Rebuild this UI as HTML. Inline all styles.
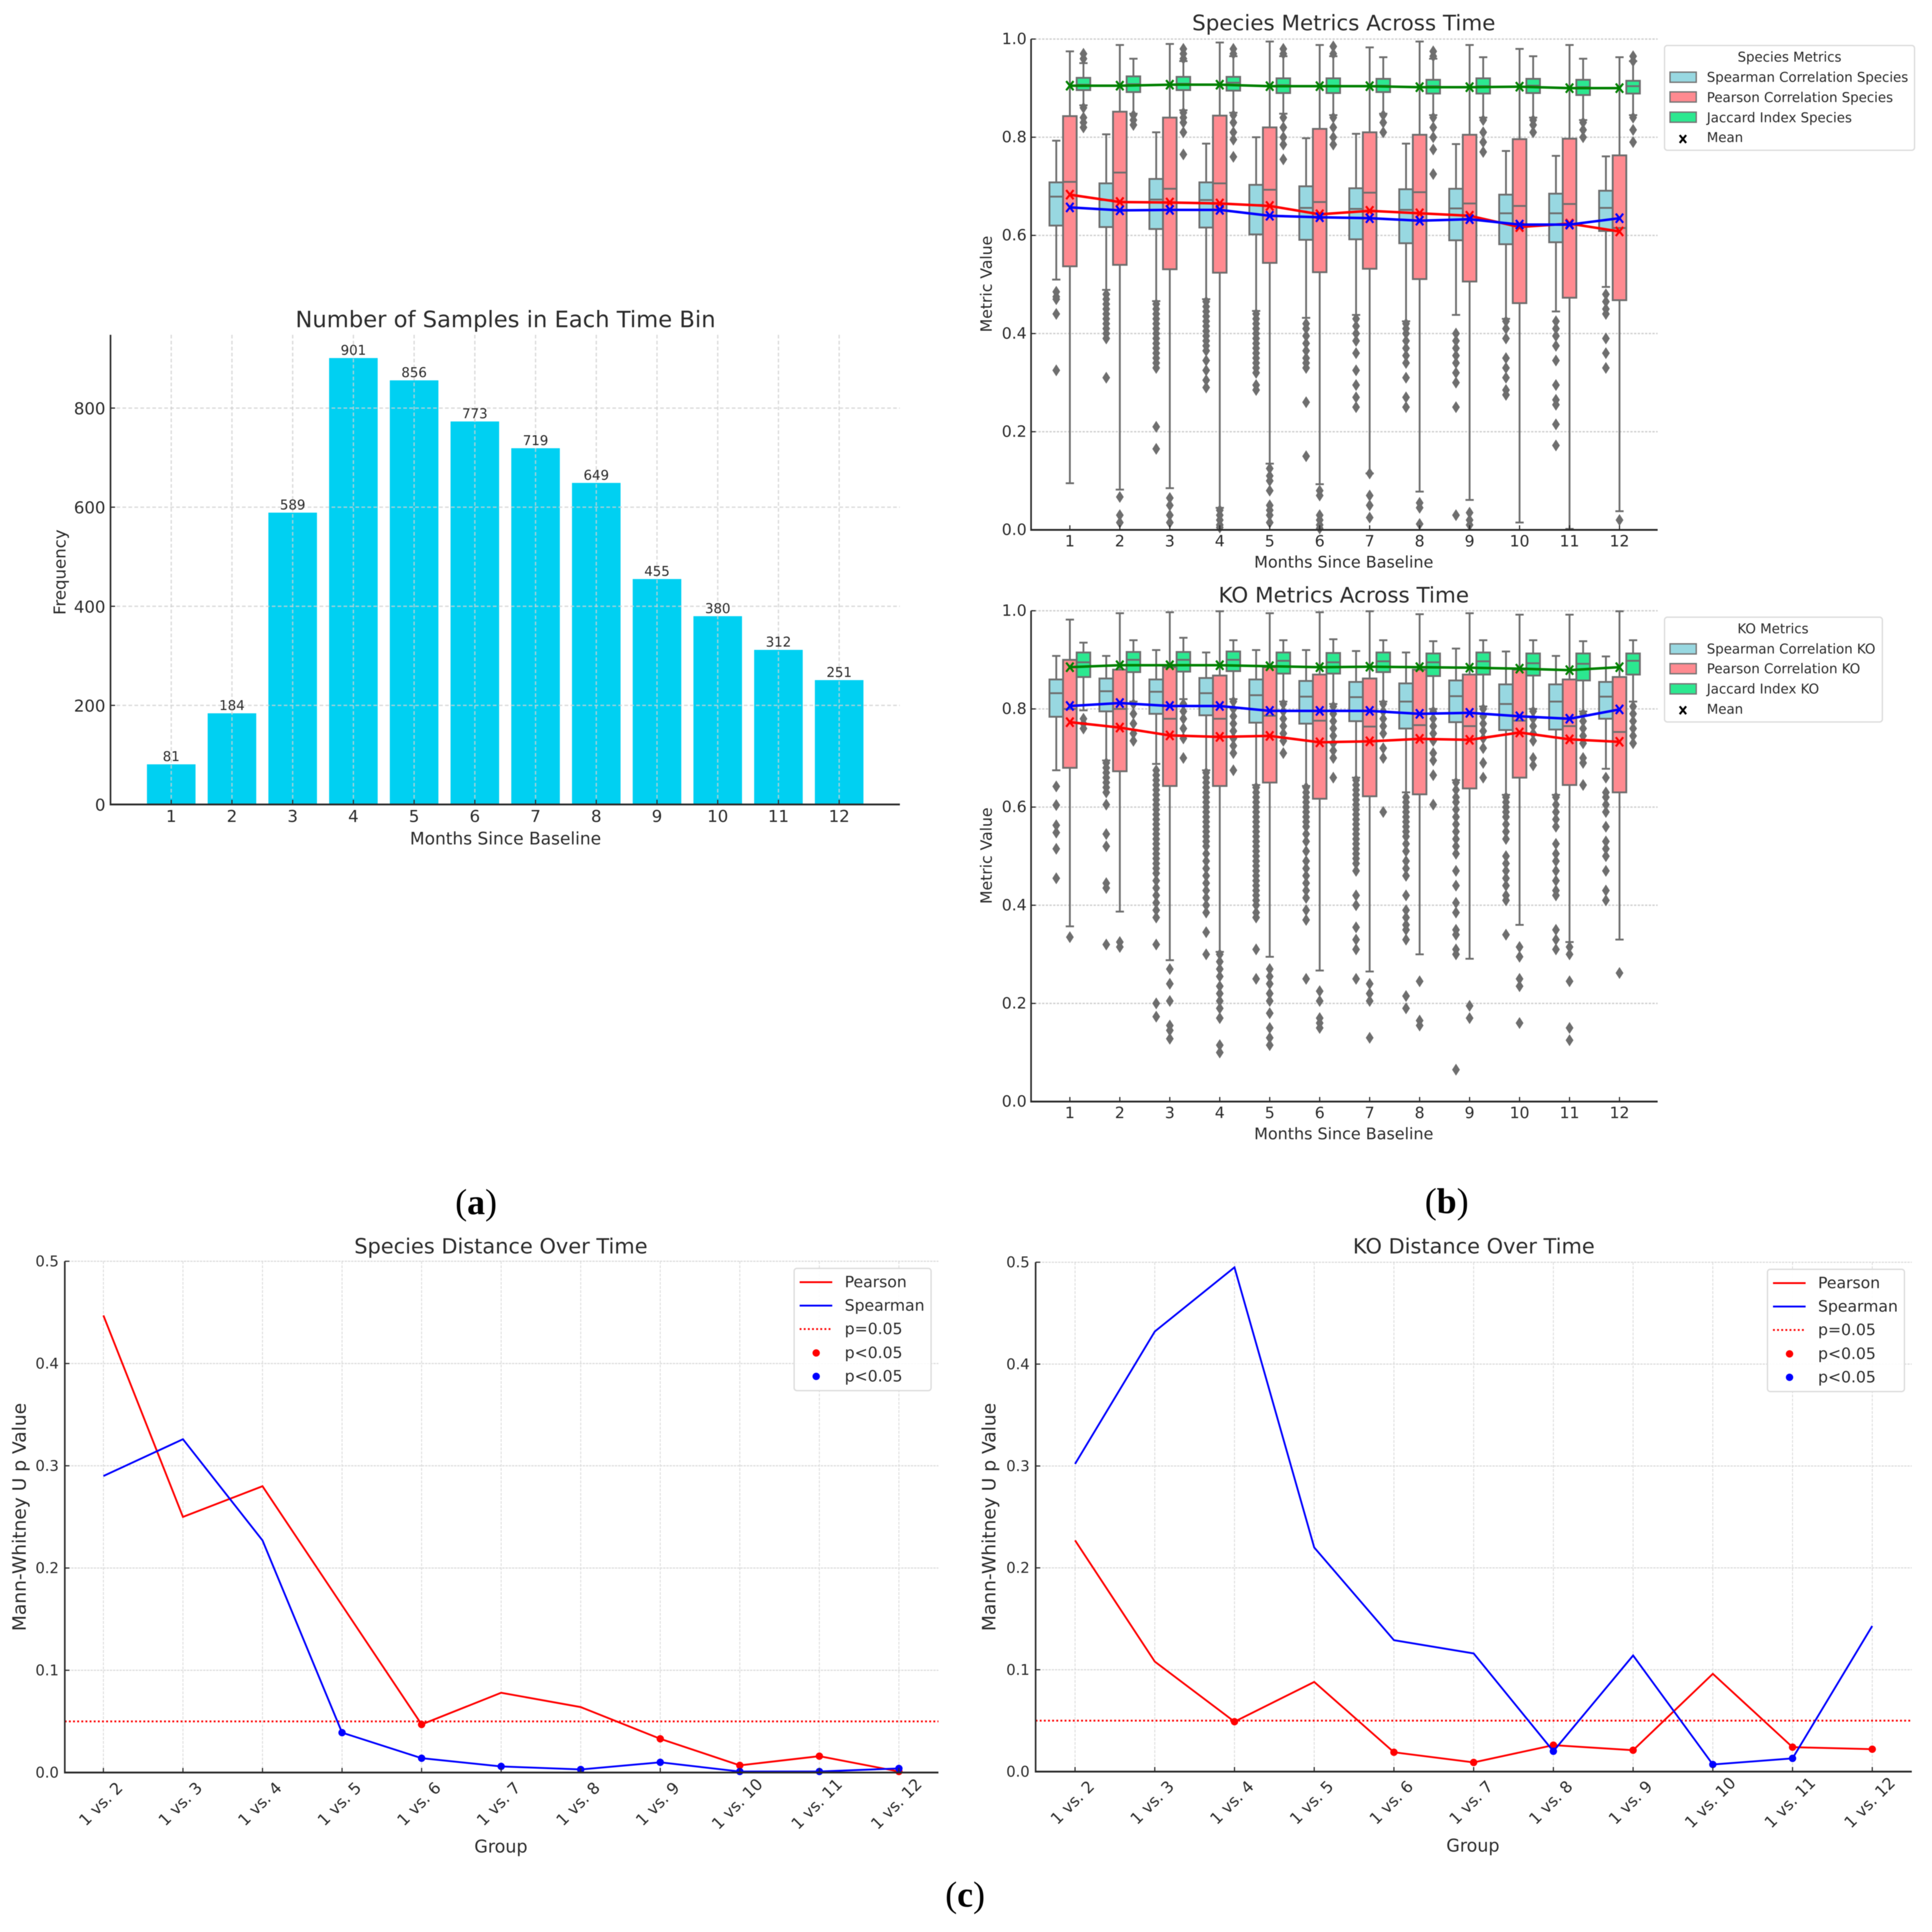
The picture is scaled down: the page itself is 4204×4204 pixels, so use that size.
<!DOCTYPE html>
<html lang="en">
<head>
<meta charset="utf-8">
<title>Samples, metrics and distance over time</title>
<style>
html,body{margin:0;padding:0;background:#fff;width:4204px;height:4204px;overflow:hidden}
svg{display:block;filter:blur(0.8px)}
text{font-family:"DejaVu Sans","Liberation Sans",sans-serif;fill:#2b2b2b;dominant-baseline:central}
.panel{font-family:"Liberation Serif",serif;font-size:78px;fill:#000}
.title{text-anchor:middle}
.lab{text-anchor:middle}
</style>
</head>
<body>
<svg id="figure" xmlns="http://www.w3.org/2000/svg" width="4204" height="4204" viewBox="0 0 4204 4204">
  <rect width="4204" height="4204" fill="#fff"/>

  <g id="bar-chart"></g>
  <text class="title" x="1100" y="695" font-size="49.3">Number of Samples in Each Time Bin</text>
  <text class="lab" x="1100" y="1825" font-size="37">Months Since Baseline</text>
  <text class="lab" transform="translate(131 1245) rotate(-90)" font-size="36">Frequency</text>

  <g id="species-box"></g>
  <text class="title" x="2924" y="51" font-size="46.7">Species Metrics Across Time</text>
  <text class="lab" x="2924" y="1224" font-size="34.7">Months Since Baseline</text>
  <text class="lab" transform="translate(2147 618) rotate(-90)" font-size="34">Metric Value</text>
  <g>
    <rect x="3622" y="99" width="544" height="228" rx="6" fill="#fff" stroke="#ddd" stroke-width="3"/>
    <text class="lab" x="3894" y="124" font-size="29">Species Metrics</text>
    <rect x="3634" y="157" width="57" height="22" fill="#98d8e1" stroke="#777" stroke-width="3"/>
    <text x="3714" y="168" font-size="29">Spearman Correlation Species</text>
    <rect x="3634" y="200" width="57" height="22" fill="#ff8a90" stroke="#777" stroke-width="3"/>
    <text x="3714" y="212" font-size="29">Pearson Correlation Species</text>
    <rect x="3634" y="244" width="57" height="22" fill="#2ce890" stroke="#777" stroke-width="3"/>
    <text x="3714" y="256" font-size="29">Jaccard Index Species</text>
    <path d="M3655 294L3669 311M3669 294L3655 311" stroke="#000" stroke-width="4.5" fill="none"/>
    <text x="3714" y="299" font-size="29">Mean</text>
  </g>

  <g id="ko-box"></g>
  <text class="title" x="2924" y="1296" font-size="46.7">KO Metrics Across Time</text>
  <text class="lab" x="2924" y="2468" font-size="34.7">Months Since Baseline</text>
  <text class="lab" transform="translate(2147 1862) rotate(-90)" font-size="34">Metric Value</text>
  <g>
    <rect x="3622" y="1343" width="474" height="228" rx="6" fill="#fff" stroke="#ddd" stroke-width="3"/>
    <text class="lab" x="3858" y="1368" font-size="29">KO Metrics</text>
    <rect x="3634" y="1401" width="57" height="22" fill="#98d8e1" stroke="#777" stroke-width="3"/>
    <text x="3714" y="1412" font-size="29">Spearman Correlation KO</text>
    <rect x="3634" y="1444" width="57" height="22" fill="#ff8a90" stroke="#777" stroke-width="3"/>
    <text x="3714" y="1455" font-size="29">Pearson Correlation KO</text>
    <rect x="3634" y="1488" width="57" height="22" fill="#2ce890" stroke="#777" stroke-width="3"/>
    <text x="3714" y="1499" font-size="29">Jaccard Index KO</text>
    <path d="M3655 1537L3669 1554M3669 1537L3655 1554" stroke="#000" stroke-width="4.5" fill="none"/>
    <text x="3714" y="1543" font-size="29">Mean</text>
  </g>

  <g id="species-line"></g>
  <text class="title" x="1090" y="2712" font-size="45.5">Species Distance Over Time</text>
  <text class="lab" x="1090" y="4018" font-size="38">Group</text>
  <text class="lab" transform="translate(42 3301) rotate(-90)" font-size="40.5">Mann-Whitney U p Value</text>
  <g>
    <rect x="1728" y="2760" width="298" height="266" rx="6" fill="#fff" fill-opacity=".9" stroke="#ddd" stroke-width="3"/>
    <path d="M1740 2790H1811" stroke="#f00" stroke-width="4"/>
    <text x="1838" y="2790" font-size="34">Pearson</text>
    <path d="M1740 2841H1811" stroke="#00f" stroke-width="4"/>
    <text x="1838" y="2841" font-size="34">Spearman</text>
    <path d="M1740 2892H1811" stroke="#f00" stroke-width="4" stroke-dasharray="4 5"/>
    <text x="1838" y="2892" font-size="34">p=0.05</text>
    <circle cx="1776" cy="2944" r="8" fill="#f00"/>
    <text x="1838" y="2944" font-size="34">p&lt;0.05</text>
    <circle cx="1776" cy="2995" r="8" fill="#00f"/>
    <text x="1838" y="2995" font-size="34">p&lt;0.05</text>
  </g>

  <g id="ko-line"></g>
  <text class="title" x="3207" y="2712" font-size="45.5">KO Distance Over Time</text>
  <text class="lab" x="3205" y="4016" font-size="38">Group</text>
  <text class="lab" transform="translate(2152 3301) rotate(-90)" font-size="40.5">Mann-Whitney U p Value</text>
  <g>
    <rect x="3846" y="2762" width="298" height="266" rx="6" fill="#fff" fill-opacity=".9" stroke="#ddd" stroke-width="3"/>
    <path d="M3858 2792H3929" stroke="#f00" stroke-width="4"/>
    <text x="3956" y="2792" font-size="34">Pearson</text>
    <path d="M3858 2843H3929" stroke="#00f" stroke-width="4"/>
    <text x="3956" y="2843" font-size="34">Spearman</text>
    <path d="M3858 2894H3929" stroke="#f00" stroke-width="4" stroke-dasharray="4 5"/>
    <text x="3956" y="2894" font-size="34">p=0.05</text>
    <circle cx="3894" cy="2946" r="8" fill="#f00"/>
    <text x="3956" y="2946" font-size="34">p&lt;0.05</text>
    <circle cx="3894" cy="2997" r="8" fill="#00f"/>
    <text x="3956" y="2997" font-size="34">p&lt;0.05</text>
  </g>

  <text class="panel" x="1036" y="2615" text-anchor="middle">(<tspan font-weight="bold">a</tspan>)</text>
  <text class="panel" x="3148" y="2613" text-anchor="middle">(<tspan font-weight="bold">b</tspan>)</text>
  <text class="panel" x="2100" y="4122" text-anchor="middle">(<tspan font-weight="bold">c</tspan>)</text>
</svg>

<script>
// ---------- bar chart data ----------
const months = [1,2,3,4,5,6,7,8,9,10,11,12];
const barFrequency = [81,184,589,901,856,773,719,649,455,380,312,251];
const barYTicks = [0,200,400,600,800];
const boxYTicks = [0,0.2,0.4,0.6,0.8,1];
const lineYTicks = [0,0.1,0.2,0.3,0.4,0.5];
const groupLabels = ["1 vs. 2","1 vs. 3","1 vs. 4","1 vs. 5","1 vs. 6","1 vs. 7","1 vs. 8","1 vs. 9","1 vs. 10","1 vs. 11","1 vs. 12"];
const pThreshold = 0.05;

// ---------- species box data: [low whisker, q1, median, q3, high whisker] ----------
const speciesSpearmanBox = [[.51,.62,.679,.708,.793],[.489,.617,.672,.706,.806],[.466,.613,.673,.715,.81],[.47,.616,.672,.708,.787],[.446,.602,.662,.703,.8],[.432,.591,.656,.7,.798],[.438,.592,.654,.696,.807],[.425,.584,.652,.694,.787],[.438,.59,.655,.695,.786],[.43,.582,.645,.683,.772],[.445,.586,.645,.685,.762],[.495,.609,.656,.691,.761]];
const speciesPearsonBox = [[.095,.537,.709,.843,.975],[.082,.54,.728,.852,.988],[.085,.531,.695,.84,.99],[.045,.524,.706,.844,.993],[.135,.544,.693,.82,.995],[.093,.525,.668,.817,.988],[.115,.532,.687,.81,.983],[.078,.511,.688,.805,.995],[.061,.506,.665,.805,.988],[.015,.462,.66,.796,.98],[.002,.473,.664,.797,.988],[.038,.468,.615,.763,.963]];
const speciesJaccardBox = [[.865,.896,.907,.921,.951],[.848,.892,.908,.924,.96],[.855,.896,.909,.923,.955],[.85,.895,.911,.923,.965],[.848,.89,.906,.92,.965],[.845,.89,.905,.92,.965],[.848,.892,.905,.919,.963],[.845,.889,.904,.917,.96],[.84,.889,.904,.92,.963],[.84,.89,.905,.919,.965],[.835,.886,.902,.917,.96],[.845,.889,.904,.915,.955]];
const speciesSpearmanOut = [[.485,.475,.47,.44,.325],[.48,.47,.46,.45,.44,.43,.42,.41,.40,.39,.31],[.46,.45,.44,.43,.42,.41,.40,.39,.38,.37,.36,.35,.34,.33,.21,.165],[.465,.455,.445,.435,.425,.415,.405,.395,.385,.375,.365,.345,.325,.305,.29],[.44,.43,.42,.41,.40,.39,.38,.37,.36,.35,.34,.33,.32,.295,.285],[.42,.41,.395,.38,.365,.35,.34,.33,.26,.15],[.43,.415,.40,.385,.36,.325,.295,.27,.25],[.42,.41,.40,.385,.37,.355,.34,.31,.27,.25],[.40,.385,.37,.355,.34,.32,.30,.25,.03],[.425,.41,.39,.35,.33,.31,.285,.275],[.425,.41,.395,.375,.345,.295,.265,.255,.215,.172],[.48,.465,.45,.44,.39,.36,.33]];
const speciesPearsonOut = [[],[.067,.03,.015],[.065,.05,.03,.015],[.04,.03,.02,.01,.005],[.125,.11,.10,.08,.05,.04,.03,.015],[.08,.07,.03,.02,.01,.003],[.115,.07,.05,.025],[.055,.045,.012],[.035,.02,.01],[],[],[.02]];
const speciesJaccardOut = [[.97,.96,.86,.84,.83,.82],[.845,.835,.825],[.98,.97,.96,.85,.84,.83,.81,.765],[.98,.97,.845,.83,.81,.795,.76],[.98,.97,.84,.82,.80,.785,.755],[.985,.97,.84,.82,.80,.785],[.845,.83,.81],[.975,.965,.84,.82,.80,.775,.725],[.835,.81,.79,.77],[.835,.825,.81],[.83,.815,.80],[.965,.955,.84,.815,.79]];
const speciesSpearmanMean = [.657,.651,.652,.652,.64,.637,.635,.63,.633,.622,.622,.635];
const speciesPearsonMean = [.683,.668,.667,.665,.66,.643,.65,.645,.64,.617,.624,.608];
const speciesJaccardMean = [.905,.905,.907,.907,.904,.904,.904,.902,.902,.903,.9,.9];

// ---------- KO box data ----------
const koSpearmanBox = [[.675,.784,.832,.86,.908],[.695,.795,.836,.862,.908],[.688,.79,.835,.86,.92],[.675,.787,.832,.863,.915],[.645,.772,.828,.86,.92],[.643,.77,.825,.857,.92],[.66,.775,.824,.855,.918],[.63,.76,.815,.852,.915],[.655,.773,.826,.858,.923],[.625,.757,.81,.85,.917],[.625,.758,.815,.85,.908],[.678,.78,.825,.855,.907]];
const koPearsonBox = [[.357,.68,.8,.9,.982],[.387,.673,.8,.88,.995],[.288,.643,.78,.885,.997],[.305,.643,.78,.868,.999],[.295,.65,.786,.885,.995],[.267,.617,.776,.87,.997],[.265,.622,.764,.862,.999],[.3,.626,.767,.88,.993],[.291,.638,.765,.87,.995],[.36,.66,.776,.88,.992],[.325,.645,.765,.86,.992],[.33,.63,.753,.865,.999]];
const koJaccardBox = [[.797,.865,.895,.915,.935],[.815,.875,.9,.916,.94],[.82,.876,.9,.916,.945],[.82,.877,.9,.917,.94],[.815,.872,.898,.915,.94],[.81,.872,.895,.914,.942],[.815,.875,.897,.915,.94],[.8,.867,.895,.913,.938],[.805,.87,.897,.915,.94],[.8,.868,.893,.913,.94],[.795,.858,.892,.913,.938],[.815,.87,.898,.913,.94]];
const koSpearmanOut = [[.642,.604,.563,.548,.515,.455],[.69,.68,.67,.66,.65,.64,.63,.605,.545,.52,.445,.435,.32],[.675,.665,.655,.645,.635,.625,.615,.605,.595,.585,.575,.565,.555,.545,.535,.525,.515,.505,.495,.485,.475,.465,.45,.435,.42,.405,.39,.375,.32,.2,.173],[.67,.66,.65,.64,.63,.62,.61,.60,.59,.58,.57,.56,.55,.54,.53,.52,.505,.49,.475,.46,.445,.43,.415,.40,.385,.345,.30],[.64,.63,.62,.61,.60,.59,.58,.57,.56,.55,.54,.53,.52,.51,.50,.49,.48,.47,.46,.45,.44,.43,.42,.41,.40,.385,.375,.31,.25],[.64,.63,.62,.61,.60,.59,.58,.57,.56,.545,.53,.51,.49,.475,.46,.445,.43,.415,.39,.37,.25],[.655,.645,.635,.625,.615,.605,.595,.585,.575,.565,.555,.545,.535,.525,.515,.505,.495,.485,.47,.42,.40,.355,.33,.31,.25],[.62,.61,.60,.59,.58,.57,.56,.55,.54,.525,.51,.49,.475,.46,.42,.39,.375,.36,.35,.33,.215,.19],[.65,.635,.62,.61,.595,.58,.565,.55,.535,.52,.505,.47,.44,.405,.385,.35,.34,.31,.30,.065],[.62,.61,.60,.59,.58,.565,.55,.535,.50,.485,.47,.455,.44,.42,.41,.34],[.62,.605,.59,.575,.56,.525,.505,.49,.47,.45,.43,.42,.35,.33,.31],[.66,.63,.62,.605,.59,.56,.53,.515,.50,.47,.43,.41]];
const koPearsonOut = [[.335],[.325,.315],[.27,.24,.205,.155,.145,.128],[.30,.285,.27,.255,.235,.22,.205,.19,.17,.115,.10],[.27,.255,.24,.22,.205,.18,.15,.13,.115],[.225,.205,.17,.16,.15],[.24,.22,.205,.13],[.245,.165,.155],[.195,.17],[.315,.295,.25,.235,.16],[.315,.30,.245,.15,.125],[.262]];
const koJaccardOut = [[.78,.77,.76],[.81,.79,.77,.75,.735],[.81,.795,.78,.76,.74,.70],[.815,.80,.785,.77,.755,.74,.725,.71,.675],[.81,.795,.78,.765,.75,.735,.71],[.805,.79,.775,.76,.745,.73,.715,.70,.66],[.81,.795,.78,.765,.75,.72,.70,.59],[.795,.78,.765,.75,.735,.71,.695,.665,.605],[.80,.785,.77,.755,.74,.72,.69,.66],[.795,.78,.765,.75,.735,.70,.685],[.79,.775,.76,.745,.73,.70,.69,.645],[.805,.79,.775,.76,.745,.73]];
const koSpearmanMean = [.806,.812,.806,.806,.796,.796,.796,.79,.792,.785,.78,.799];
const koPearsonMean = [.773,.762,.746,.743,.745,.732,.734,.739,.737,.752,.738,.733];
const koJaccardMean = [.885,.889,.889,.889,.887,.885,.886,.885,.884,.882,.879,.885];

// ---------- distance line data ----------
const speciesPearsonP = [.447,.25,.28,.1635,.047,.078,.064,.033,.007,.016,.001];
const speciesSpearmanP = [.29,.326,.227,.039,.014,.006,.003,.01,.001,.001,.004];
const koPearsonP = [.227,.108,.049,.088,.019,.009,.026,.021,.096,.024,.022];
const koSpearmanP = [.302,.432,.495,.22,.129,.116,.02,.114,.007,.013,.143];

// ---------- helpers ----------
const NS = 'http://www.w3.org/2000/svg';
const AXIS = '#2a2a2a';
const GRID = '#d0d0d0';
const BOXEDGE = '#6e6e6e';

function linear(d0, d1, r0, r1) {
  return v => r0 + (v - d0) / (d1 - d0) * (r1 - r0);
}

function mark(parent, tag, attrs, name, content) {
  const el = document.createElementNS(NS, tag);
  for (const k in attrs) el.setAttribute(k, attrs[k]);
  
  
  if (content !== undefined) el.textContent = content;
  parent.appendChild(el);
  return el;
}

function polyPoints(xs, ys) {
  return xs.map((x, i) => x.toFixed(1) + ',' + ys[i].toFixed(1)).join(' ');
}

// ---------- bar chart ----------
(function drawBars() {
  const g = document.getElementById('bar-chart');
  const x = linear(1, 12, 372.6, 1826);
  const y = linear(0, 800, 1750.5, 888);
  const left = x(0), right = x(13), top = y(948), base = y(0);
  months.forEach((m, i) => {
    const v = barFrequency[i];
    mark(g, 'rect', {x: x(m - 0.4), y: y(v), width: x(m + 0.4) - x(m - 0.4), height: base - y(v), fill: '#00d0f2'}, 'bar-month-' + m);
  });
  months.forEach(m => {
    mark(g, 'line', {x1: x(m), x2: x(m), y1: top, y2: base, stroke: GRID, 'stroke-opacity': 0.75, 'stroke-width': 3, 'stroke-dasharray': '8 5'}, 'x-gridline-' + m);
  });
  barYTicks.slice(1).forEach(t => {
    mark(g, 'line', {x1: left, x2: right, y1: y(t), y2: y(t), stroke: GRID, 'stroke-opacity': 0.75, 'stroke-width': 3, 'stroke-dasharray': '8 5'}, 'y-gridline-' + t);
  });
  barYTicks.forEach(t => {
    mark(g, 'line', {x1: left, x2: left + 10, y1: y(t), y2: y(t), stroke: AXIS, 'stroke-width': 2.5}, 'y-tick-' + t);
    mark(g, 'text', {x: left - 11, y: y(t) + 2, 'text-anchor': 'end', 'font-size': 36}, 'y-tick-label-' + t, String(t));
  });
  months.forEach((m, i) => {
    mark(g, 'line', {x1: x(m), x2: x(m), y1: base, y2: base - 10, stroke: AXIS, 'stroke-width': 2.5}, 'x-tick-' + m);
    mark(g, 'text', {x: x(m), y: 1777, 'text-anchor': 'middle', 'font-size': 36}, 'x-tick-label-' + m, String(m));
    mark(g, 'text', {x: x(m), y: y(barFrequency[i]) - 17, 'text-anchor': 'middle', 'font-size': 29}, 'bar-value-label-' + m, String(barFrequency[i]));
  });
  mark(g, 'line', {x1: left, x2: left, y1: top, y2: base + 2, stroke: AXIS, 'stroke-width': 3.5}, 'y-axis-line');
  mark(g, 'line', {x1: left, x2: right, y1: base, y2: base, stroke: AXIS, 'stroke-width': 4}, 'x-axis-line');
})();

// ---------- box plots ----------
function drawBoxChart(cfg) {
  const g = document.getElementById(cfg.id);
  const x = linear(1, 12, 2328, 3524);
  const y = linear(0, 1, cfg.y0, cfg.y1);
  const left = 2243.6, right = 3607, base = cfg.y0, top = cfg.y1;
  const halfCap = 9, diamondW = 8.5, diamondH = 13;
  boxYTicks.slice(1).forEach(t => {
    mark(g, 'line', {x1: left, x2: right, y1: y(t), y2: y(t), stroke: GRID, 'stroke-width': 3, 'stroke-dasharray': '5 3'}, cfg.prefix + '-gridline-' + t);
  });
  cfg.series.forEach(s => {
    months.forEach((m, i) => {
      const cx = x(m + s.offset);
      const halfW = x(m + 0.136) - x(m);
      const [lo, q1, med, q3, hi] = s.box[i];
      const tag = cfg.prefix + '-' + s.name + '-month-' + m;
      mark(g, 'line', {x1: cx, x2: cx, y1: y(lo), y2: y(q1), stroke: BOXEDGE, 'stroke-width': 4}, tag + '-lower-whisker');
      mark(g, 'line', {x1: cx, x2: cx, y1: y(q3), y2: y(hi), stroke: BOXEDGE, 'stroke-width': 4}, tag + '-upper-whisker');
      mark(g, 'line', {x1: cx - halfCap, x2: cx + halfCap, y1: y(lo), y2: y(lo), stroke: BOXEDGE, 'stroke-width': 4}, tag + '-lower-cap');
      mark(g, 'line', {x1: cx - halfCap, x2: cx + halfCap, y1: y(hi), y2: y(hi), stroke: BOXEDGE, 'stroke-width': 4}, tag + '-upper-cap');
      s.out[i].forEach((o, k) => {
        const oy = y(o);
        const pts = [cx, oy - diamondH, cx + diamondW, oy, cx, oy + diamondH, cx - diamondW, oy].map(n => n.toFixed(1)).join(' ');
        mark(g, 'polygon', {points: pts, fill: BOXEDGE}, tag + '-outlier-' + k);
      });
      mark(g, 'rect', {x: cx - halfW, y: y(q3), width: halfW * 2, height: y(q1) - y(q3), fill: s.fill, stroke: BOXEDGE, 'stroke-width': 4}, tag + '-box');
      mark(g, 'line', {x1: cx - halfW, x2: cx + halfW, y1: y(med), y2: y(med), stroke: BOXEDGE, 'stroke-width': 4}, tag + '-median');
    });
  });
  cfg.means.forEach(s => {
    const xs = months.map(m => x(m));
    const ys = s.values.map(v => y(v));
    mark(g, 'polyline', {points: polyPoints(xs, ys), fill: 'none', stroke: s.color, 'stroke-width': 5.5}, cfg.prefix + '-' + s.name + '-mean-line');
    xs.forEach((px, i) => {
      const py = ys[i];
      const d = `M${px - 8} ${py - 10}L${px + 8} ${py + 10}M${px + 8} ${py - 10}L${px - 8} ${py + 10}`;
      mark(g, 'path', {d: d, fill: 'none', stroke: s.color, 'stroke-width': 4.5}, cfg.prefix + '-' + s.name + '-mean-marker-' + months[i]);
    });
  });
  boxYTicks.forEach(t => {
    mark(g, 'line', {x1: left, x2: left + 10, y1: y(t), y2: y(t), stroke: AXIS, 'stroke-width': 2.5}, cfg.prefix + '-y-tick-' + t);
    mark(g, 'text', {x: 2234, y: y(t), 'text-anchor': 'end', 'font-size': 34}, cfg.prefix + '-y-tick-label-' + t, t.toFixed(1));
  });
  months.forEach(m => {
    mark(g, 'line', {x1: x(m), x2: x(m), y1: base, y2: base - 10, stroke: AXIS, 'stroke-width': 2.5}, cfg.prefix + '-x-tick-' + m);
    mark(g, 'text', {x: x(m), y: base + 25, 'text-anchor': 'middle', 'font-size': 34}, cfg.prefix + '-x-tick-label-' + m, String(m));
  });
  mark(g, 'line', {x1: left, x2: left, y1: top, y2: base + 2, stroke: AXIS, 'stroke-width': 3.5}, cfg.prefix + '-y-axis-line');
  mark(g, 'line', {x1: left, x2: right, y1: base, y2: base, stroke: AXIS, 'stroke-width': 4}, cfg.prefix + '-x-axis-line');
}

drawBoxChart({
  id: 'species-box', prefix: 'species', y0: 1153, y1: 85,
  series: [
    {name: 'spearman', offset: -0.272, fill: '#98d8e1', box: speciesSpearmanBox, out: speciesSpearmanOut},
    {name: 'pearson', offset: 0, fill: '#ff8a90', box: speciesPearsonBox, out: speciesPearsonOut},
    {name: 'jaccard', offset: 0.272, fill: '#2ce890', box: speciesJaccardBox, out: speciesJaccardOut}
  ],
  means: [
    {name: 'jaccard', color: '#008000', values: speciesJaccardMean},
    {name: 'pearson', color: '#ff0000', values: speciesPearsonMean},
    {name: 'spearman', color: '#0000ff', values: speciesSpearmanMean}
  ]
});
drawBoxChart({
  id: 'ko-box', prefix: 'ko', y0: 2397, y1: 1329,
  series: [
    {name: 'spearman', offset: -0.272, fill: '#98d8e1', box: koSpearmanBox, out: koSpearmanOut},
    {name: 'pearson', offset: 0, fill: '#ff8a90', box: koPearsonBox, out: koPearsonOut},
    {name: 'jaccard', offset: 0.272, fill: '#2ce890', box: koJaccardBox, out: koJaccardOut}
  ],
  means: [
    {name: 'jaccard', color: '#008000', values: koJaccardMean},
    {name: 'pearson', color: '#ff0000', values: koPearsonMean},
    {name: 'spearman', color: '#0000ff', values: koSpearmanMean}
  ]
});

// ---------- distance line charts ----------
function drawLineChart(cfg) {
  const g = document.getElementById(cfg.id);
  const x = linear(0, 10, cfg.x0, cfg.x10);
  const y = linear(0, 0.5, cfg.y0, cfg.y5);
  const base = y(0), top = y(0.5);
  groupLabels.forEach((lab, i) => {
    mark(g, 'line', {x1: x(i), x2: x(i), y1: top, y2: base, stroke: '#dcdcdc', 'stroke-width': 2, 'stroke-dasharray': '6 3'}, cfg.prefix + '-x-gridline-' + i);
  });
  lineYTicks.slice(1).forEach(t => {
    mark(g, 'line', {x1: cfg.left, x2: cfg.right, y1: y(t), y2: y(t), stroke: '#dcdcdc', 'stroke-width': 2.5, 'stroke-dasharray': '5 2'}, cfg.prefix + '-y-gridline-' + t);
  });
  mark(g, 'line', {x1: cfg.left, x2: cfg.right, y1: y(pThreshold), y2: y(pThreshold), stroke: '#f00', 'stroke-width': 4, 'stroke-dasharray': '4 5'}, cfg.prefix + '-threshold-line');
  cfg.series.forEach(s => {
    const xs = s.values.map((v, i) => x(i));
    const ys = s.values.map(v => y(v));
    mark(g, 'polyline', {points: polyPoints(xs, ys), fill: 'none', stroke: s.color, 'stroke-width': 4}, cfg.prefix + '-' + s.name + '-line');
    s.values.forEach((v, i) => {
      if (v < pThreshold) {
        mark(g, 'circle', {cx: x(i), cy: y(v), r: 8, fill: s.color}, cfg.prefix + '-' + s.name + '-significant-point-' + i);
      }
    });
  });
  lineYTicks.forEach(t => {
    mark(g, 'line', {x1: cfg.left, x2: cfg.left + 10, y1: y(t), y2: y(t), stroke: AXIS, 'stroke-width': 2.5}, cfg.prefix + '-y-tick-' + t);
    mark(g, 'text', {x: cfg.left - 13, y: y(t), 'text-anchor': 'end', 'font-size': 32}, cfg.prefix + '-y-tick-label-' + t, t.toFixed(1));
  });
  groupLabels.forEach((lab, i) => {
    mark(g, 'line', {x1: x(i), x2: x(i), y1: base, y2: base - 10, stroke: AXIS, 'stroke-width': 2.5}, cfg.prefix + '-x-tick-' + i);
    mark(g, 'text', {transform: `translate(${x(i) - 5} ${cfg.labelY}) rotate(-45)`, 'text-anchor': 'middle', 'font-size': 35}, cfg.prefix + '-x-tick-label-' + i, lab);
  });
  mark(g, 'line', {x1: cfg.left, x2: cfg.left, y1: top, y2: base + 2, stroke: AXIS, 'stroke-width': 3.5}, cfg.prefix + '-y-axis-line');
  mark(g, 'line', {x1: cfg.left, x2: cfg.right, y1: base, y2: base, stroke: AXIS, 'stroke-width': 4}, cfg.prefix + '-x-axis-line');
}

drawLineChart({
  id: 'species-line', prefix: 'species-distance', x0: 225, x10: 1956, y0: 3857, y5: 2744.5, left: 141, right: 2042, labelY: 3926,
  series: [
    {name: 'pearson', color: '#ff0000', values: speciesPearsonP},
    {name: 'spearman', color: '#0000ff', values: speciesSpearmanP}
  ]
});
drawLineChart({
  id: 'ko-line', prefix: 'ko-distance', x0: 2339.3, x10: 4074, y0: 3855, y5: 2746.6, left: 2253.5, right: 4160, labelY: 3923,
  series: [
    {name: 'pearson', color: '#ff0000', values: koPearsonP},
    {name: 'spearman', color: '#0000ff', values: koSpearmanP}
  ]
});
</script>
</body>
</html>
